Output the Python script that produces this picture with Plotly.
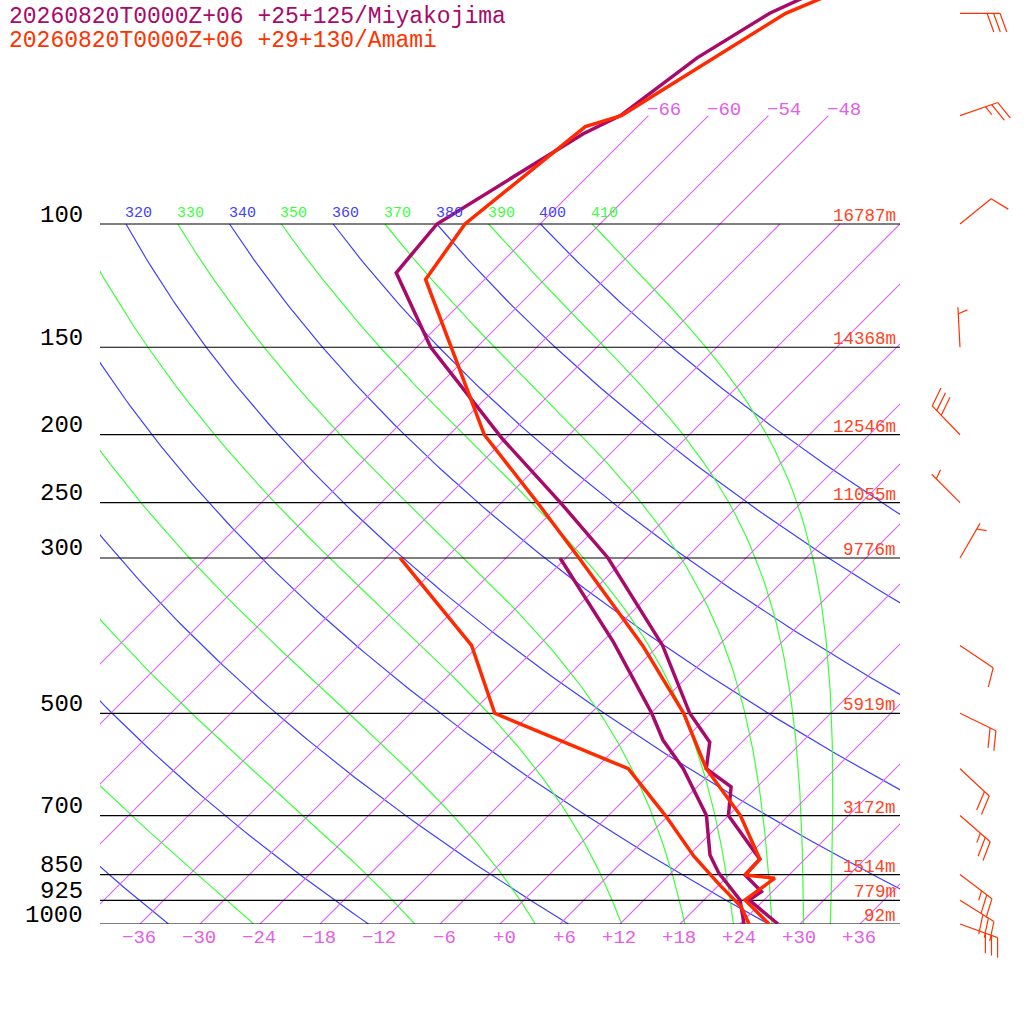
import numpy as np
import plotly.graph_objects as go

# ---------------------------------------------------------------------------
# Skew-T log-p diagram, two soundings (Miyakojima / Amami) + Amami wind barbs.
# ---------------------------------------------------------------------------

# Miyakojima temperature / dewpoint (hPa, deg C)
MIYAKO_T_P = [30, 50, 57.9, 70, 74.3, 100, 117.4, 150, 203, 250, 300, 400, 500,
              550, 600, 637, 700, 808, 851, 899, 924, 1000]
MIYAKO_T = [-46.0, -64.1, -66.9, -68.8, -70.7, -76.3, -75.5, -64.6, -48.2, -36.1,
            -25.8, -11.6, -2.1, 2.8, 5.1, 9.4, 12.0, 19.5, 19.6, 22.9, 22.5, 27.8]
MIYAKO_TD_P = [300, 396, 500, 546, 600, 700, 797, 846, 924, 1000]
MIYAKO_TD = [-30.6, -16.8, -5.9, -2.1, 2.8, 9.8, 14.1, 16.8, 21.6, 24.4]

# Amami temperature / dewpoint (hPa, deg C)
AMAMI_T_P = [30, 50, 70, 72.6, 100, 120, 200, 250, 300, 400, 500, 600, 700,
             808, 851, 860, 924, 1000]
AMAMI_T = [-41.0, -62.5, -68.7, -71.2, -73.5, -71.9, -50.5, -38.4, -28.7, -13.6,
           -2.7, 5.1, 13.2, 19.5, 19.6, 22.9, 22.1, 26.9]
AMAMI_TD_P = [300, 400, 500, 600, 700, 800, 880, 945, 1000]
AMAMI_TD = [-46.6, -30.7, -21.6, -2.7, 5.7, 12.6, 18.1, 22.4, 24.9]

# Amami winds: pressure, direction (deg, from), speed (kt)
WIND_P = [50, 70, 100, 150, 200, 250, 300, 400, 500, 600, 700, 850, 925, 1000]
WIND_DIR = [90, 71, 51, 357, 316, 315, 30, 124, 116, 133, 131, 127, 122, 110]
WIND_SPD = [30, 25, 10, 5, 30, 5, 5, 10, 20, 20, 25, 25, 30, 30]

# isobars and the heights printed on them
ISOBARS = [100, 150, 200, 250, 300, 500, 700, 850, 925, 1000]
HEIGHTS = ["16787m", "14368m", "12546m", "11055m", "9776m", "5919m",
           "3172m", "1514m", "779m", "92m"]

ISOTHERMS = list(range(-66, 37, 6))
ISOTHERM_TOP = [-66, -60, -54, -48]          # extended above 100 hPa with label
BOTTOM_TICKS = list(range(-36, 37, 6))
THETA_DRY = list(range(240, 401, 20))        # blue
THETA_MOIST = list(range(250, 411, 20))      # green
THETA_LABELS = list(range(310, 411, 10))

TITLE_1 = "20260820T0000Z+06 +25+125/Miyakojima"
TITLE_2 = "20260820T0000Z+06 +29+130/Amami"

# diagram geometry (figure is laid out in 1024 px, no margins)
SKEW = 70.0            # deg C of shift per decade of pressure
PX_DEC = 700.0         # pixels per decade of pressure
KAPPA = 0.2857
LOG_TOP = 3 - 924 / PX_DEC
W = 1024.0

C_MIYA = "#a80a6a"
C_AMAMI = "#ff2a00"
C_ISO = "#dc62f6"
C_ISO_TXT = "#e260e6"
C_DRY = "#4040ff"
C_MOIST = "#3cff3c"
FONT = "Liberation Mono"


def skew_x(t, p):
    return np.asarray(t, float) + SKEW * np.log10(1000.0 / np.asarray(p, float))


def moist_adiabat(theta):
    """Pseudo-adiabat starting at 100 hPa on the dry adiabat theta, down to 1000."""
    rd, cp, lv, eps = 287.04, 1005.7, 2.501e6, 0.622

    def rate(tk, p):
        tc = tk - 273.15
        es = 6.112 * np.exp(17.67 * tc / (tc + 243.5))
        rs = eps * es / (p - es)
        return (rd * tk + lv * rs) / (p * (cp + lv * lv * rs * eps / (rd * tk * tk)))

    ps = np.linspace(100, 1000, 901)
    t = theta * 0.1 ** KAPPA
    out = [t]
    for i in range(len(ps) - 1):
        p, dp = ps[i], ps[i + 1] - ps[i]
        k1 = rate(t, p)
        k2 = rate(t + dp * k1 / 2, p + dp / 2)
        t = t + dp * k2
        out.append(t)
    return ps, np.array(out) - 273.15


fig = go.Figure()


def add_line(x, p, color, width, xaxis="x", yaxis="y"):
    fig.add_trace(go.Scatter(x=[None if v is None else float(v) for v in x],
                             y=[None if v is None else float(v) for v in p],
                             mode="lines", xaxis=xaxis, yaxis=yaxis,
                             line=dict(color=color, width=width),
                             hoverinfo="skip", showlegend=False))


# dry adiabats
pp = np.geomspace(100, 1000, 120)
for th in THETA_DRY:
    tt = th * (pp / 1000) ** KAPPA - 273.15
    add_line(skew_x(tt, pp), pp, C_DRY, 1.2)

# moist adiabats
for th in THETA_MOIST:
    ps, tt = moist_adiabat(th)
    add_line(skew_x(tt[::10], ps[::10]), ps[::10], C_MOIST, 1.2)

# isotherms, one trace with gaps
ix, iy = [], []
for t in ISOTHERMS:
    p_end = 70 if t in ISOTHERM_TOP else 100
    ps = np.geomspace(1000, p_end, 8)
    ix += list(skew_x(np.full(ps.shape, t), ps)) + [None]
    iy += list(ps) + [None]
add_line(ix, iy, C_ISO, 1.1)

# isobars
for p in ISOBARS:
    add_line([-40, 40], [p, p], "black", 1.2)

# soundings
add_line(skew_x(MIYAKO_T, MIYAKO_T_P), MIYAKO_T_P, C_MIYA, 3.5)
add_line(skew_x(MIYAKO_TD, MIYAKO_TD_P), MIYAKO_TD_P, C_MIYA, 3.5)
add_line(skew_x(AMAMI_T, AMAMI_T_P), AMAMI_T_P, C_AMAMI, 3.5)
add_line(skew_x(AMAMI_TD, AMAMI_TD_P), AMAMI_TD_P, C_AMAMI, 3.5)

# wind barbs (side panel: x2 in pixels, y2 log-pressure extended downward)
bx, by = [], []
for p, d, s in zip(WIND_P, WIND_DIR, WIND_SPD):
    th = np.radians(d)
    u = np.array([np.sin(th), -np.cos(th)])          # screen coords, y down
    a = np.radians(70)
    v = np.array([u[0] * np.cos(a) - u[1] * np.sin(a),
                  u[0] * np.sin(a) + u[1] * np.cos(a)])
    base = np.array([960.0, 0.0])
    tip = base + 40 * u
    segs = [(base, tip)]
    n_full, n_half = s // 10, (s % 10) // 5
    for i in range(n_full):
        st = tip - i * 6.5 * u
        segs.append((st, st + 20 * v))
    if n_half:
        i = n_full if n_full else 1
        st = tip - i * 6.5 * u
        segs.append((st, st + 10 * v))
    lp = np.log10(p)
    for s0, s1 in segs:
        bx += [s0[0], s1[0], None]
        by += [10 ** (lp + s0[1] / PX_DEC), 10 ** (lp + s1[1] / PX_DEC), None]
add_line(bx, by, "#ff3300", 1.2, xaxis="x2", yaxis="y2")

ann = []


def label(text, x, p, color, size, xanchor, yshift, xref="x"):
    ann.append(dict(text=text, x=x, y=np.log10(p), xref=xref, yref="y",
                    xanchor=xanchor, yanchor="middle", yshift=yshift,
                    showarrow=False, font=dict(family=FONT, size=size, color=color)))


for p in ISOBARS:
    label(str(p), 85 / W, p, "black", 24, "right", 9, xref="paper")
for p, h in zip(ISOBARS, HEIGHTS):
    label(h, 39.8, p, "#ff4422", 17.5, "right", 8)
for t in BOTTOM_TICKS:
    txt = ("+" if t >= 0 else "\u2212") + str(abs(t))
    label(txt, t + 1.8, 1000, C_ISO_TXT, 19, "right", -14)
for t in ISOTHERM_TOP:
    label("\u2212" + str(abs(t)), float(skew_x(t, 70)) - 0.3, 70, C_ISO_TXT, 19, "left", 6)
for th in THETA_LABELS:
    col = C_DRY if th % 20 == 0 else C_MOIST
    x0 = th * 0.1 ** KAPPA - 273.15 + SKEW
    if x0 < -40:
        continue
    label(str(th), x0 - 0.3, 100, col, 15, "left", 11)

for i, (txt, col) in enumerate([(TITLE_1, C_MIYA), (TITLE_2, "#ff3300")]):
    ann.append(dict(text=txt, x=7 / W, y=1 - (17 + 24 * i) / W, xref="paper", yref="paper",
                    xanchor="left", yanchor="middle", showarrow=False,
                    font=dict(family=FONT, size=23, color=col)))

axis_off = dict(showgrid=False, zeroline=False, showticklabels=False,
                showline=False, ticks="")
fig.update_layout(
    width=1024, height=1024,
    margin=dict(l=0, r=0, t=0, b=0),
    paper_bgcolor="white", plot_bgcolor="white",
    xaxis=dict(range=[-40, 40], domain=[100 / W, 900 / W], **axis_off),
    xaxis2=dict(range=[900, 1024], domain=[900 / W, 1], anchor="y2", **axis_off),
    yaxis=dict(type="log", range=[3, LOG_TOP], domain=[100 / W, 1], **axis_off),
    yaxis2=dict(type="log", range=[3 + 100 / PX_DEC, LOG_TOP], domain=[0, 1],
                anchor="x2", **axis_off),
    annotations=ann,
    showlegend=False,
)

fig.write_html("out.html", config={"displayModeBar": False},
               post_script="document.body.style.margin='0';")
